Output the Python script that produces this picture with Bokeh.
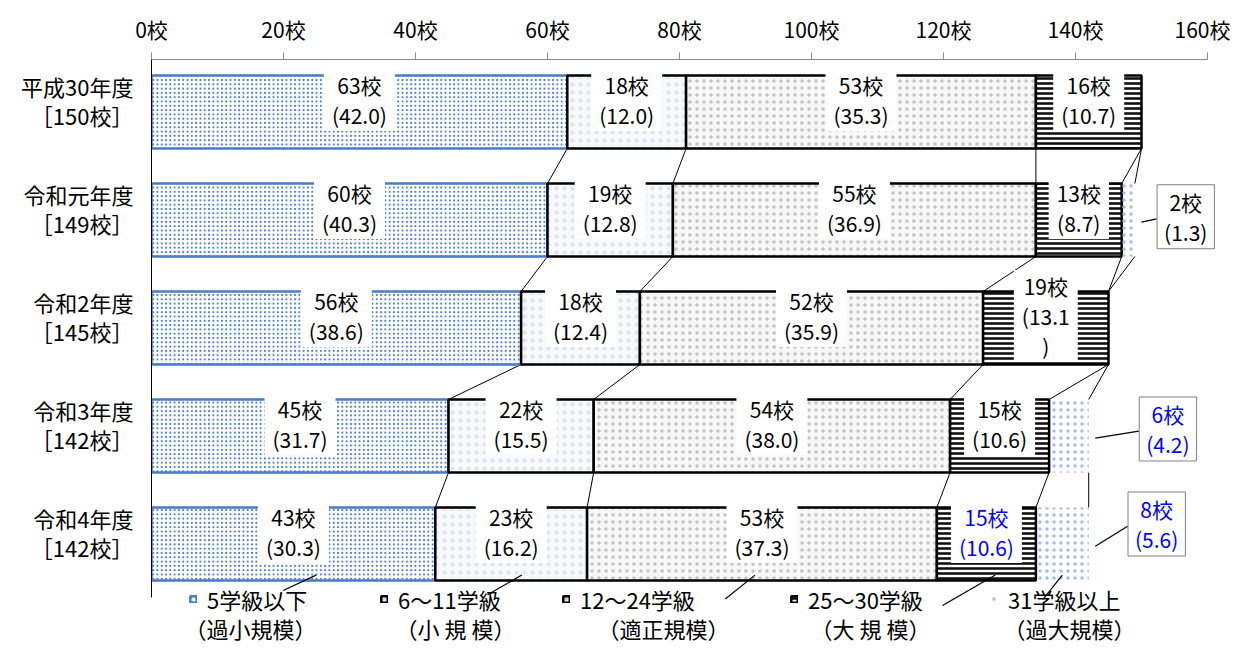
import numpy as np
from bokeh.plotting import figure
from bokeh.models import (Range1d, LinearAxis, FixedTicker, ColumnDataSource,
                          Legend, LegendItem, Label)
from bokeh.core.properties import value
from bokeh.embed import file_html
from bokeh.resources import INLINE

FONT = "Noto Sans CJK JP"

# ---------------- data ----------------
years = ["平成30年度", "令和元年度", "令和2年度", "令和3年度", "令和4年度"]
totals = [150, 149, 145, 142, 142]
cat_names = ["5学級以下", "6～11学級", "12～24学級", "25～30学級", "31学級以上"]
cat_subs = ["（過小規模）", "（小 規 模）", "（適正規模）", "（大 規 模）", "（過大規模）"]

n_le5 = [63, 60, 56, 45, 43]
n_6_11 = [18, 19, 18, 22, 23]
n_12_24 = [53, 55, 52, 54, 53]
n_25_30 = [16, 13, 19, 15, 15]
n_ge31 = [0, 2, 0, 6, 8]

pct_le5 = [42.0, 40.3, 38.6, 31.7, 30.3]
pct_6_11 = [12.0, 12.8, 12.4, 15.5, 16.2]
pct_12_24 = [35.3, 36.9, 35.9, 38.0, 37.3]
pct_25_30 = [10.7, 8.7, 13.1, 10.6, 10.6]
pct_ge31 = [0.0, 1.3, 0.0, 4.2, 5.6]

x_ticks = [0, 20, 40, 60, 80, 100, 120, 140, 160]
x_tick_labels = [f"{t}校" for t in x_ticks]
y_tick_labels = [f"{y}\n［{t}校］" for y, t in zip(years, totals)]

series = np.array([n_le5, n_6_11, n_12_24, n_25_30, n_ge31], dtype=float)
pcts = [pct_le5, pct_6_11, pct_12_24, pct_25_30, pct_ge31]
cum = np.cumsum(series, axis=0)
lefts = cum - series
rows = np.arange(len(years), dtype=float)

# ---------------- layout / style ----------------
W, H = 1230, 645
LEFT, TOP = 151, 59
PX_X, PX_Y = 6.6, 108.0
Y_TOP = -0.486
BAR_H = 0.676
LABEL_DY = -0.11
BLUE = "#4a7cc4"
TXT_BLUE = "#0000ff"
wrapped = {(3, 2)}                      # label wrapped by the original chart
blue_labels = {(3, 4), (4, 3), (4, 4)}
callout_dx = {1: 7.7, 3: 12.0, 4: 10.3}
callout_dy = {1: -0.03, 3: -0.065, 4: -0.185}

y_bottom = Y_TOP + (H - TOP) / PX_Y
p = figure(width=W, height=H, output_backend="svg", toolbar_location=None,
           x_range=Range1d(0, (W - LEFT) / PX_X), y_range=Range1d(y_bottom, Y_TOP),
           x_axis_location="above", y_axis_location=None,
           min_border_left=LEFT, min_border_right=0, min_border_top=TOP, min_border_bottom=0)
p.outline_line_color = None
p.grid.visible = False
p.background_fill_color = "white"
p.border_fill_color = "white"

xa = p.xaxis[0]
xa.ticker = FixedTicker(ticks=x_ticks)
xa.major_label_overrides = {t: l for t, l in zip(x_ticks, x_tick_labels)}
xa.bounds = (0, 160)
xa.axis_line_color = "#8c8c8c"
xa.major_tick_line_color = "#8c8c8c"
xa.major_tick_out = 7
xa.major_tick_in = 0
xa.minor_tick_line_color = None
xa.major_label_standoff = 9
xa.major_label_text_font = FONT
xa.major_label_text_font_size = "21px"
xa.major_label_text_color = "black"

p.extra_y_ranges = {"lab": Range1d(y_bottom - LABEL_DY, Y_TOP - LABEL_DY)}
ya = LinearAxis(y_range_name="lab", ticker=FixedTicker(ticks=list(range(len(years)))),
                major_label_overrides={i: l for i, l in enumerate(y_tick_labels)})
ya.bounds = (Y_TOP - LABEL_DY, 4.5 - LABEL_DY)
ya.axis_line_color = "black"
ya.major_tick_line_color = None
ya.minor_tick_line_color = None
ya.major_label_standoff = 12
ya.major_label_text_font = FONT
ya.major_label_text_font_size = "22px"
ya.major_label_text_color = "black"
ya.major_label_text_line_height = 0.9
p.add_layout(ya, "left")

# connectors between consecutive bars
cx0, cy0, cx1, cy1 = [], [], [], []
for i in range(len(years) - 1):
    for k in range(series.shape[0]):
        cx0.append(cum[k][i]); cy0.append(rows[i] + BAR_H / 2)
        cx1.append(cum[k][i + 1]); cy1.append(rows[i + 1] - BAR_H / 2)
p.segment(x0=cx0, y0=cy0, x1=cx1, y1=cy1, line_color="black", line_width=1)

styles = [
    dict(fill_color="white", line_color=BLUE, line_width=2.5, hatch_pattern="dot",
         hatch_color=BLUE, hatch_scale=4.3),
    dict(fill_color="#f6f8fb", line_color="black", line_width=2.5, hatch_pattern="dot",
         hatch_color="#dfe2e7", hatch_scale=8),
    dict(fill_color="#f8f8f8", line_color="black", line_width=2.5, hatch_pattern="dot",
         hatch_color="#c2c2c2", hatch_scale=7),
    dict(fill_color="white", line_color="black", line_width=2.5, hatch_pattern="horizontal_line",
         hatch_color="#111111", hatch_scale=5, hatch_weight=2.6),
    dict(fill_color=None, line_color=None, hatch_pattern="dot",
         hatch_color="#a3bde6", hatch_scale=7),
]

bar_renderers = []
for k in range(series.shape[0]):
    src = ColumnDataSource(dict(y=rows, left=lefts[k], right=cum[k]))
    bar_renderers.append(p.hbar(y="y", left="left", right="right", height=BAR_H,
                                source=src, **styles[k]))

# leader lines from legend entries to the last row
lead_frac = [0.58, 0.57, 0.48, 0.59, 0.5]
lead_dx = [5.0, 5.2, 4.5, 8.0, 2.9]
lead_end = [0.43, 0.47, 0.51, 0.57, 0.51]
last = len(years) - 1
lx0 = [lefts[k][last] + lead_frac[k] * series[k][last] for k in range(5)]
ly0 = [rows[last] + BAR_H / 2 - 0.05] * 5
lx1 = [lx0[k] - lead_dx[k] for k in range(5)]
ly1 = [rows[last] + lead_end[k] for k in range(5)]
p.segment(x0=lx0, y0=ly0, x1=lx1, y1=ly1, line_color="black", line_width=1.2)

# callout leaders for the 31+ segment
clx0, cly0, clx1, cly1 = [], [], [], []
for i, dx in callout_dx.items():
    clx0.append(totals[i] + 1.0); cly0.append(rows[i] + 0.02)
    clx1.append(totals[i] + dx - 4.4); cly1.append(rows[i] + callout_dy[i] + 0.02)
p.segment(x0=clx0, y0=cly0, x1=clx1, y1=cly1, line_color="black", line_width=1.2)

# inside labels
tx, ty, tt, tc = [], [], [], []
for k in range(4):
    for i in range(len(years)):
        v = int(series[k][i])
        if v == 0:
            continue
        pc = f"({pcts[k][i]:.1f})"
        if (k, i) in wrapped:
            pc = pc[:-1] + "\n)"
        tx.append(lefts[k][i] + v / 2)
        ty.append(rows[i] + LABEL_DY)
        tt.append(f"{v}校\n{pc}")
        tc.append(TXT_BLUE if (k, i) in blue_labels else "black")
p.text(x=tx, y=ty, text=tt, text_color=tc, text_align="center", text_baseline="middle",
       text_font=value(FONT), text_font_size="21px", text_line_height=1.0,
       background_fill_color="white", padding=(8, 1))

# callout labels for 31+ segment
ox, oy, ot, oc = [], [], [], []
for i, dx in callout_dx.items():
    ox.append(totals[i] + dx)
    oy.append(rows[i] + callout_dy[i])
    ot.append(f"{int(series[4][i])}校\n({pcts[4][i]:.1f})")
    oc.append(TXT_BLUE if (4, i) in blue_labels else "black")
p.text(x=ox, y=oy, text=ot, text_color=oc, text_align="center", text_baseline="middle",
       text_font=value(FONT), text_font_size="21px", text_line_height=1.0,
       background_fill_color="white", border_line_color="#808080", border_line_width=1,
       padding=(7, 2))

# legends: first line with the swatch, second line centred below it
legend_x = [38, 229, 411, 639, 839]
legend_sub_cx = [99, 304, 512, 719, 918]
for k in range(5):
    lg = Legend(items=[LegendItem(label=cat_names[k], renderers=[bar_renderers[k]])],
                location=(legend_x[k], 30), glyph_width=8, glyph_height=8,
                label_standoff=10, orientation="horizontal", padding=0, margin=0,
                spacing=0, border_line_color=None, background_fill_alpha=0,
                label_text_font=FONT, label_text_font_size="22px",
                label_text_line_height=1.2, label_text_color="black")
    p.add_layout(lg)
    p.add_layout(Label(x=legend_sub_cx[k], y=18, x_units="screen", y_units="screen",
                       text=cat_subs[k], text_align="center", text_baseline="middle",
                       text_font=FONT, text_font_size="22px", text_color="black"))

open("out.html", "w").write(file_html(p, INLINE))
